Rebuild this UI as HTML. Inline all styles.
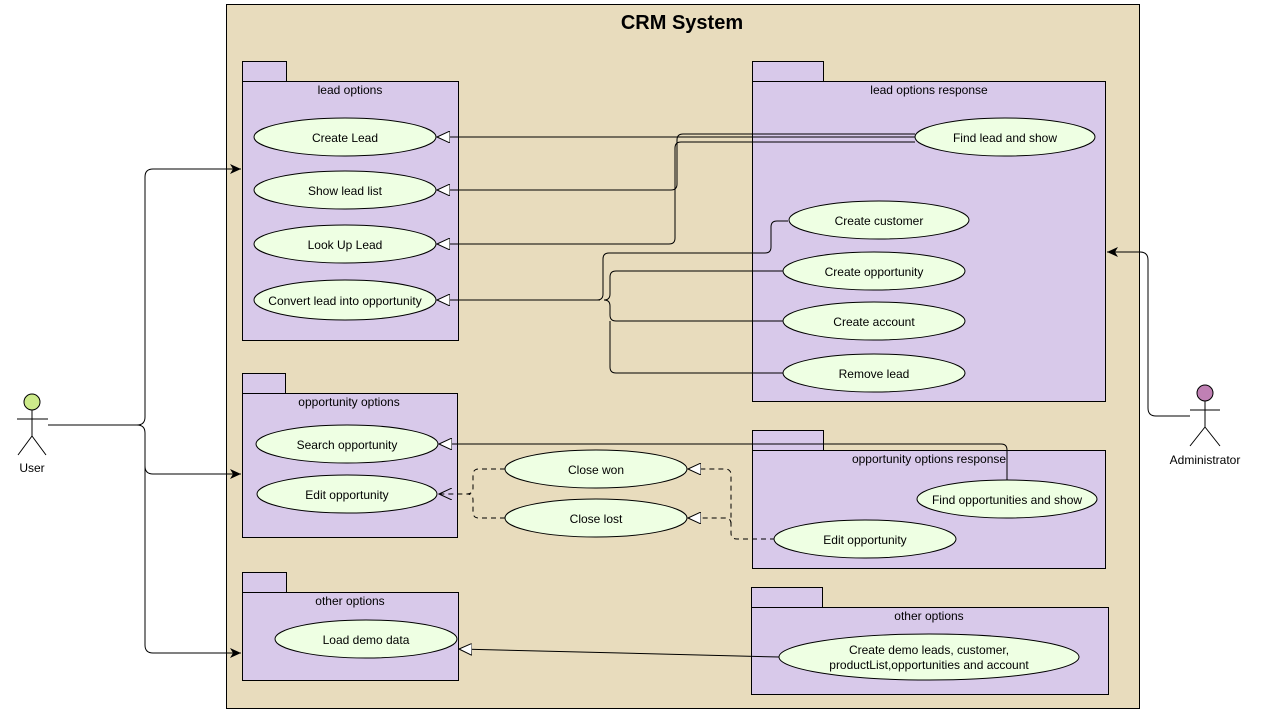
<!DOCTYPE html>
<html><head><meta charset="utf-8"><style>
html,body{margin:0;padding:0;background:#fff;}
svg{display:block;}
text{font-family:"Liberation Sans",sans-serif;font-size:12px;fill:#000;}
</style></head><body>
<svg width="1262" height="713" viewBox="0 0 1262 713" xmlns="http://www.w3.org/2000/svg">
<defs>
<marker id="fa" markerWidth="12" markerHeight="10" refX="11" refY="5" orient="auto" markerUnits="userSpaceOnUse">
<path d="M0,0 L11,5 L0,10 L3,5 Z" fill="#000"/></marker>
<marker id="ht" markerWidth="14" markerHeight="12" refX="13" refY="6" orient="auto" markerUnits="userSpaceOnUse">
<path d="M0,0 L13,6 L0,12 Z" fill="#fff" stroke="#000" stroke-width="1"/></marker>
<marker id="oa" markerWidth="14" markerHeight="12" refX="13" refY="6" orient="auto" markerUnits="userSpaceOnUse">
<path d="M0,0 L13,6 L0,12" fill="none" stroke="#000" stroke-width="1"/></marker>
</defs>
<rect x="226.5" y="4.5" width="913" height="704" fill="#e8dcbd" stroke="#000"/>
<text x="682" y="29" text-anchor="middle" style="font-size:20px;font-weight:bold">CRM System</text>

<g fill="#d8c9ea" stroke="#000" stroke-width="1">
<rect x="242.5" y="61.5" width="44" height="20"/><rect x="242.5" y="81.5" width="216" height="259"/>
<rect x="752.5" y="61.5" width="71" height="20"/><rect x="752.5" y="81.5" width="353" height="320"/>
<rect x="242.5" y="373.5" width="43" height="20"/><rect x="242.5" y="393.5" width="215" height="144"/>
<rect x="752.5" y="430.5" width="71" height="20"/><rect x="752.5" y="450.5" width="353" height="118"/>
<rect x="242.5" y="572.5" width="44" height="20"/><rect x="242.5" y="592.5" width="216" height="88"/>
<rect x="751.5" y="587.5" width="71" height="20"/><rect x="751.5" y="607.5" width="357" height="87"/>
</g>
<g text-anchor="middle">
<text x="350" y="94">lead options</text>
<text x="929" y="94">lead options response</text>
<text x="349" y="406">opportunity options</text>
<text x="929" y="463">opportunity options response</text>
<text x="350" y="605">other options</text>
<text x="929" y="620">other options</text>
</g>

<g fill="none" stroke="#000" stroke-width="1">
<path d="M48,425 H137 Q145,425 145,417 V177 Q145,169 153,169 H241" marker-end="url(#fa)"/>
<path d="M137,425 Q145,425 145,433 V466 Q145,474 153,474 H241" marker-end="url(#fa)"/>
<path d="M145,466 V645 Q145,653 153,653 H241" marker-end="url(#fa)"/>
<path d="M1190,416 H1156 Q1148,416 1148,408 V260 Q1148,252 1140,252 H1107" marker-end="url(#fa)"/>

<path d="M915,137 H437" marker-end="url(#ht)"/>
<path d="M915,134 H683 Q677,134 677,140 V184 Q677,190 671,190 H437" marker-end="url(#ht)"/>
<path d="M915,142 H681 Q675,142 675,148 V238 Q675,244 669,244 H437" marker-end="url(#ht)"/>
<path d="M600,300 H437" marker-end="url(#ht)"/>
<path d="M788,221 H777 Q771,221 771,227 V247 Q771,253 765,253 H609 Q603,253 603,259 V294 Q603,300 597,300"/>
<path d="M783,271 H616 Q610,271 610,277 V294 Q610,300 604,300"/>
<path d="M783,321 H616 Q610,321 610,315 V306 Q610,300 604,300"/>
<path d="M783,373 H616 Q610,373 610,367 V321"/>

<path d="M1007,481 V450 Q1007,444 1001,444 H439" marker-end="url(#ht)"/>
<path d="M505,469 H479 Q473,469 473,475 V488 Q473,494 467,494 H439" stroke-dasharray="5,4" marker-end="url(#oa)"/>
<path d="M505,518 H479 Q473,518 473,512 V500 Q473,494 467,494" stroke-dasharray="5,4"/>
<path d="M775,539 H737 Q731,539 731,533 V475 Q731,469 725,469 H688" stroke-dasharray="5,4" marker-end="url(#ht)"/>
<path d="M731,524 Q731,518 725,518 H688" stroke-dasharray="5,4" marker-end="url(#ht)"/>
<path d="M779,657 L459,649" marker-end="url(#ht)"/>
</g>

<g fill="#eeffe3" stroke="#000" stroke-width="1">
<ellipse cx="345" cy="137" rx="91" ry="19"/>
<ellipse cx="345" cy="190" rx="91" ry="19"/>
<ellipse cx="345" cy="244" rx="91" ry="19"/>
<ellipse cx="345" cy="300" rx="91" ry="20"/>
<ellipse cx="1005" cy="137" rx="90" ry="19"/>
<ellipse cx="879" cy="220" rx="90" ry="19"/>
<ellipse cx="874" cy="271" rx="91" ry="19"/>
<ellipse cx="874" cy="321" rx="91" ry="19"/>
<ellipse cx="874" cy="373" rx="91" ry="19"/>
<ellipse cx="347" cy="444" rx="91" ry="19"/>
<ellipse cx="347" cy="494" rx="90" ry="19"/>
<ellipse cx="596" cy="469" rx="91" ry="19"/>
<ellipse cx="596" cy="518" rx="91" ry="19"/>
<ellipse cx="1007" cy="499" rx="90" ry="19"/>
<ellipse cx="865" cy="539" rx="91" ry="19"/>
<ellipse cx="366" cy="639" rx="91" ry="19"/>
<ellipse cx="929" cy="657" rx="150" ry="23"/>
</g>
<g text-anchor="middle">
<text x="345" y="142">Create Lead</text>
<text x="345" y="195">Show lead list</text>
<text x="345" y="249">Look Up Lead</text>
<text x="345" y="305">Convert lead into opportunity</text>
<text x="1005" y="142">Find lead and show</text>
<text x="879" y="225">Create customer</text>
<text x="874" y="276">Create opportunity</text>
<text x="874" y="326">Create account</text>
<text x="874" y="378">Remove lead</text>
<text x="347" y="449">Search opportunity</text>
<text x="347" y="499">Edit opportunity</text>
<text x="596" y="474">Close won</text>
<text x="596" y="523">Close lost</text>
<text x="1007" y="504">Find opportunities and show</text>
<text x="865" y="544">Edit opportunity</text>
<text x="366" y="644">Load demo data</text>
<text x="929" y="654">Create demo leads, customer,</text>
<text x="929" y="669">productList,opportunities and account</text>
</g>

<g stroke="#000" stroke-width="1" fill="none">
<circle cx="32" cy="402" r="8" fill="#cdeb8b"/>
<path d="M32,410 V436 M17,419 H48 M32,436 L18,455 M32,436 L46,455"/>
<circle cx="1205" cy="393" r="8" fill="#c080b4"/>
<path d="M1205,401 V427 M1190,410 H1220 M1205,427 L1190,446 M1205,427 L1220,446"/>
</g>
<text x="32" y="472" text-anchor="middle">User</text>
<text x="1205" y="464" text-anchor="middle">Administrator</text>
</svg>
</body></html>
